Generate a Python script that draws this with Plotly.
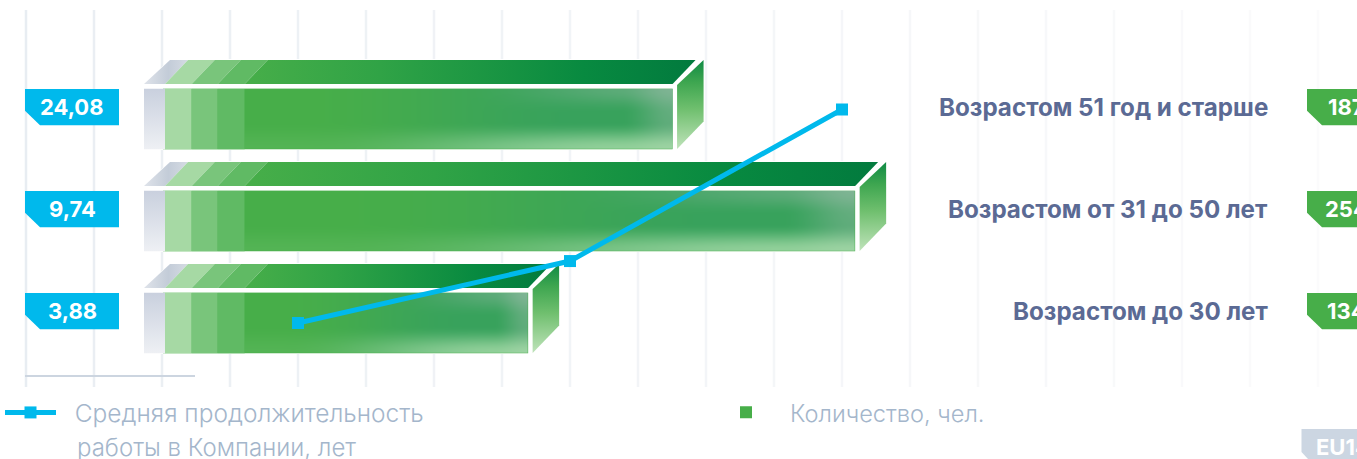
import numpy as np
import plotly.graph_objects as go

# ---- data ----
categories = ["Возрастом до 30 лет", "Возрастом от 31 до 50 лет", "Возрастом 51 год и старше"]
headcount = [134, 254, 187]
tenure_years = [3.88, 9.74, 24.08]
tenure_labels = ["3,88", "9,74", "24,08"]
series_line = "\u00a0\u00a0Средняя продолжительность"
series_line_second = "работы в Компании, лет"
series_bar = "Количество, чел."

# ---- geometry of the page (pixels) ----
W, H = 1357, 459
ZERO_PX, PX_PER_COUNT = 163.0, 2.725
ROW0_PX, ROW_PITCH = 323.0, 102.0
FONT = "Inter"
GREEN, BLUE = "#47ae49", "#00b9ec"
LEGEND_GREY = "#a4b6cb"
BAND_EDGES_PX = [165.0, 191.7, 217.7, 244.7]
BAND_COLORS = ["#a6d9a4", "#79c57b", "#60ba64"]


def cx(px):
    return (px - ZERO_PX) / PX_PER_COUNT


def dy(px):
    return px / ROW_PITCH


band_edges = [cx(p) for p in BAND_EDGES_PX]
x_range = [cx(0), cx(W)]
y_range = [-(H - ROW0_PX) / ROW_PITCH, ROW0_PX / ROW_PITCH]
line_x_range = [(0 - 298) / 272, (W - 298) / 272]
slope = (323 - 109.5) / (tenure_years[2] - tenure_years[0])
line_y_range = [tenure_years[0] - (H - 323) / slope, tenure_years[0] + 323 / slope]

fig = go.Figure()

# real bars
fig.add_trace(go.Bar(y=categories, x=headcount, orientation="h", width=60.5 / ROW_PITCH,
                     marker=dict(color=GREEN, line=dict(width=0)), name=series_bar,
                     legend="legend2", showlegend=True, hoverinfo="x+y"))
for b0, b1, col in zip(band_edges[:-1], band_edges[1:], BAND_COLORS):
    fig.add_trace(go.Bar(y=categories, x=[b1 - b0] * 3, base=[b0] * 3, orientation="h",
                         width=60.5 / ROW_PITCH, marker=dict(color=col, line=dict(width=0)),
                         showlegend=False, hoverinfo="skip"))


def poly(xs, ys, grad=None, color=None):
    kw = dict(x=xs, y=ys, mode="lines", line=dict(width=0), fill="toself", xaxis="x2", yaxis="y2",
              showlegend=False, hoverinfo="skip")
    if grad:
        kw["fillgradient"] = dict(type=grad[0], colorscale=grad[1])
    else:
        kw["fillcolor"] = color
    fig.add_trace(go.Scatter(**kw))


def smooth(a, b, v):
    t = np.clip((v - a) / (b - a), 0, 1)
    return t * t * (3 - 2 * t)


def shade(w, h):
    u = np.linspace(0, 1, w)[None, :, None]
    t = np.linspace(0, 1, h)[:, None, None]
    c0 = np.array([71, 174, 73.0])[None, None, :]
    c1 = np.array([56, 162, 92.0])[None, None, :]
    c = c0 + (c1 - c0) * smooth(0.12, 0.8, u)
    right = 0.45 * smooth(0.88, 1.0, u) * (1 - 0.35 * t)
    c = c + (np.array([165, 190, 178.0])[None, None, :] - c) * right
    top = 0.35 * smooth(0.5, 0.95, u) * (1 - smooth(0.0, 0.4, t))
    c = c + (np.array([165, 190, 178.0])[None, None, :] - c) * top
    bottom = smooth(0.55, 1.0, t) * (0.10 + 0.55 * smooth(0.15, 0.9, u))
    c = c + (np.array([192, 232, 186.0])[None, None, :] - c) * bottom
    return np.dstack([c, np.full((h, w), 255.0)]).round().astype(int)


for row, value in enumerate(headcount):
    left, start, right = cx(144), band_edges[-1], value
    foot_end = band_edges[0]
    sk = 23 / PX_PER_COUNT
    y_front_top, y_front_bot = row + dy(30.2), row - dy(30.2)
    y_top_lo, y_top_hi = row + dy(35), row + dy(59)
    # shading of the front face
    w = int(round((right - start) * PX_PER_COUNT))
    h = 60
    z = shade(w, h)
    fig.add_trace(go.Image(z=z[::-1].tolist(), colormodel="rgba", x0=start + 0.5 / PX_PER_COUNT, dx=1 / PX_PER_COUNT,
                           y0=y_front_bot + 0.5 * (y_front_top - y_front_bot) / h, dy=(y_front_top - y_front_bot) / h,
                           xaxis="x2", yaxis="y2", hoverinfo="skip"))
    # grey foot, front and top
    poly([left, foot_end, foot_end, left, left], [y_front_bot, y_front_bot, y_front_top, y_front_top, y_front_bot],
         grad=("vertical", [[0, "#eef0f4"], [1, "#c9d0de"]]))
    poly([left, foot_end, foot_end + sk, left + 26 / PX_PER_COUNT, left], [y_top_lo, y_top_lo, y_top_hi, y_top_hi, y_top_lo],
         grad=("horizontal", [[0, "#dfe3ea"], [0.55, "#c3ccd8"], [1, "#d5dbe3"]]))
    # top bands
    for b0, b1, col in zip(band_edges[:-1], band_edges[1:], BAND_COLORS):
        poly([b0, b1, b1 + sk, b0 + sk, b0], [y_top_lo, y_top_lo, y_top_hi, y_top_hi, y_top_lo], color=col)
    # top main, side
    poly([start, right, right + sk, start + sk, start], [y_top_lo, y_top_lo, y_top_hi, y_top_hi, y_top_lo],
         grad=("horizontal", [[0, "#47ae49"], [0.3, "#30a346"], [0.75, "#088a40"], [1, "#027a3e"]]))
    poly([right + 4.5 / PX_PER_COUNT, right + 31 / PX_PER_COUNT, right + 31 / PX_PER_COUNT, right + 4.5 / PX_PER_COUNT,
          right + 4.5 / PX_PER_COUNT],
         [row + dy(34), row + dy(59), row - dy(2.4), row - dy(30), row + dy(34)],
         grad=("vertical", [[0, "#bfe3ba"], [0.45, "#6fbf6e"], [0.75, "#3ea650"], [1, "#0f8a44"]]))

# the line
fig.add_trace(go.Scatter(x=categories, y=tenure_years, mode="lines+markers", xaxis="x3", yaxis="y3",
                         name=series_line, legend="legend",
                         line=dict(color=BLUE, width=5),
                         marker=dict(symbol="square", size=12, color=BLUE, line=dict(width=0)),
                         hoverinfo="x+y"))

# shapes
shapes = []
n_grid = 20
for i in range(n_grid):
    px = 26 + 68 * i
    v = i / (n_grid - 1)
    g0, g1 = np.array([232, 237, 242.0]), np.array([251, 251, 252.0])
    col = g0 + (g1 - g0) * v ** 0.75
    shapes.append(dict(type="line", xref="x2", yref="paper", x0=cx(px), x1=cx(px), y0=1 - 10 / H, y1=1 - 387 / H,
                       line=dict(color="rgb(%d,%d,%d)" % tuple(col), width=2.5), layer="below"))
shapes.append(dict(type="line", xref="paper", yref="paper", x0=25 / W, x1=195 / W, y0=1 - 376 / H, y1=1 - 376 / H,
                   line=dict(color="#ccd5e0", width=2), layer="below"))
for row, value in enumerate(headcount):
    # white silhouette under each box
    a, b = cx(144), value
    p = [(a, row - dy(31)), (b + 4 / PX_PER_COUNT, row - dy(31)), (b + 31 / PX_PER_COUNT, row - dy(4)),
         (b + 31 / PX_PER_COUNT, row + dy(60)), (a + 26 / PX_PER_COUNT, row + dy(60)), (a, row + dy(35))]
    shapes.append(dict(type="path", xref="x2", yref="y2", layer="below", line=dict(width=0), fillcolor="white",
                       path="M" + "L".join("%f,%f" % q for q in p) + "Z"))


def tag(x0, x1, row, color):
    top, bot = row + dy(30), row - dy(6.3)
    return dict(type="path", xref="x2", yref="y2", line=dict(width=0), fillcolor=color, layer="above",
                path=f"M{cx(x0)},{top}L{cx(x1)},{top}L{cx(x1)},{bot}L{cx(x0 + 15)},{bot}L{cx(x0)},{row - dy(-8.3)}Z")


annotations = []
for row, (cat, n, t) in enumerate(zip(categories, headcount, tenure_labels)):
    shapes.append(tag(25, 119, row, BLUE))
    shapes.append(tag(1307, 1400, row, GREEN))
    common = dict(xref="paper", yref="y", y=row, yshift=12, showarrow=False, yanchor="middle")
    annotations.append(dict(common, x=72 / W, xanchor="center", text=t,
                            font=dict(family=FONT, size=22, color="white", weight=700)))
    annotations.append(dict(common, x=1270 / W, xanchor="right", text=cat,
                            font=dict(family=FONT, size=24.2, color="#5b6a94", weight=700)))
    annotations.append(dict(common, x=1346 / W, xanchor="center", text=str(n),
                            font=dict(family=FONT, size=22, color="white", weight=700)))

shapes.append(dict(type="path", xref="paper", yref="paper", line=dict(width=0), fillcolor="#ccd6e2", layer="above",
                   path=f"M{1301.5/W},{1-429/H}L{1},{1-429/H}L{1},0L{1308/W},0L{1301.5/W},{1-452/H}Z"))
annotations.append(dict(xref="paper", yref="paper", x=1314 / W, y=1 - 447 / H, xanchor="left", yanchor="middle",
                        showarrow=False, text="EU14", font=dict(family=FONT, size=22, color="white", weight=700)))
annotations.append(dict(xref="paper", yref="paper", x=75 / W, y=1 - 447 / H, xanchor="left", yanchor="middle",
                        showarrow=False, text=series_line_second,
                        font=dict(family=FONT, size=24, color=LEGEND_GREY, weight=300)))

ax = dict(visible=False, fixedrange=True)
legcommon = dict(xanchor="left", yanchor="top",
                 bgcolor="rgba(0,0,0,0)", itemclick=False, itemdoubleclick=False)
fig.update_layout(
    width=W, height=H, margin=dict(l=0, r=0, t=0, b=0), paper_bgcolor="white", plot_bgcolor="rgba(0,0,0,0)",
    barmode="overlay", shapes=shapes, annotations=annotations,
    xaxis=dict(ax, range=x_range),
    yaxis=dict(ax, type="category", categoryorder="array", categoryarray=categories, range=y_range),
    xaxis2=dict(ax, range=x_range, overlaying="x"),
    yaxis2=dict(ax, range=y_range, overlaying="y", autorange=False),
    xaxis3=dict(ax, type="category", categoryorder="array", categoryarray=categories, range=line_x_range, overlaying="x"),
    yaxis3=dict(ax, range=line_y_range, overlaying="y"),
    legend=dict(legcommon, x=0, y=1 - 390 / H, itemwidth=51,
                font=dict(family=FONT, size=24.5, color=LEGEND_GREY, weight=300)),
    legend2=dict(legcommon, x=702 / W, y=1 - 390.5 / H, itemwidth=78,
                 font=dict(family=FONT, size=23.6, color=LEGEND_GREY, weight=300)),
)
fig.write_html("out.html", config=dict(displayModeBar=False),
               post_script="document.body.style.margin='0';document.body.style.overflow='hidden';")
